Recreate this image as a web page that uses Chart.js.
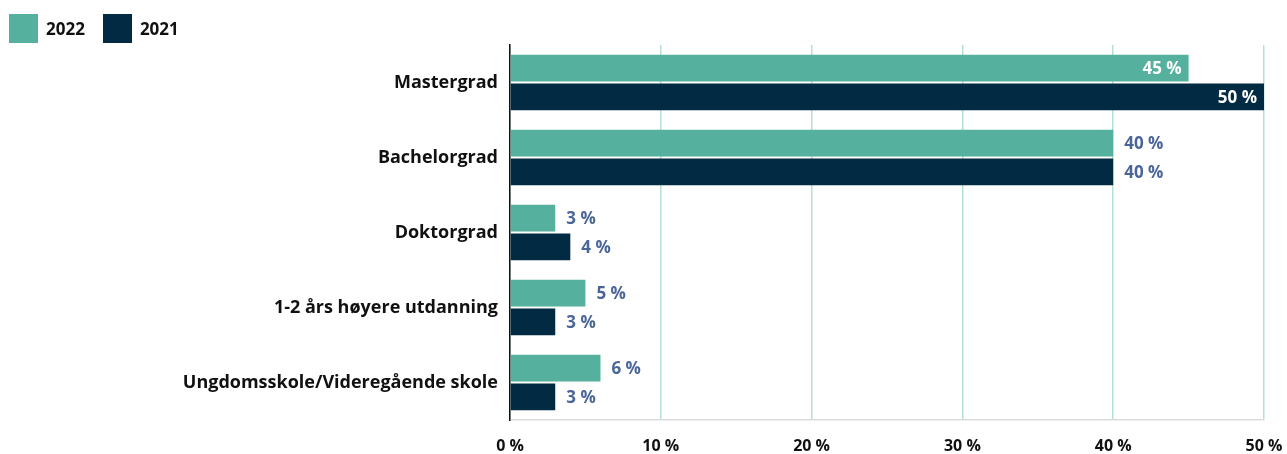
<!DOCTYPE html>
<html lang="no">
<head>
    <meta charset="UTF-8">
    <title>Utdanning 2022 / 2021</title>
    <script src="https://cdn.jsdelivr.net/npm/chart.js@4.4.1/dist/chart.umd.min.js"></script>
    <style>
        html, body { margin: 0; padding: 0; background: #fff; }
        body { width: 1287px; height: 454px; position: relative; overflow: hidden; font-family: "Open Sans", "Noto Sans", sans-serif; }
        .legend { position: absolute; left: 9px; top: 14px; display: flex; align-items: center; font-weight: 700; font-size: 17px; color: #111; z-index: 2; }
        .legend span.box { display: inline-block; width: 29px; height: 29px; margin-right: 8px; }
        .legend .item { display: flex; align-items: center; margin-right: 18px; }
        canvas { position: absolute; left: 0; top: 0; }
    </style>
</head>
<body>
    <!-- Legend -->
    <div class="legend" id="legend"></div>

    <canvas id="eduChart" width="1287" height="454"></canvas>

    <script>
        // Data
        const categories = ['Mastergrad', 'Bachelorgrad', 'Doktorgrad', '1-2 års høyere utdanning', 'Ungdomsskole/Videregående skole'];
        const seriesNames = ['2022', '2021'];
        const values2022 = [45, 40, 3, 5, 6];
        const values2021 = [50, 40, 4, 3, 3];
        const xTicks = [0, 10, 20, 30, 40, 50];

        const colors = ['#55b09d', '#032a43'];
        const labelColor = '#4a6597';
        const fontFamily = '"Open Sans", "Noto Sans", sans-serif';

        // HTML legend
        const legendEl = document.getElementById('legend');
        seriesNames.forEach((name, i) => {
            const item = document.createElement('div');
            item.className = 'item';
            item.innerHTML = `<span class="box" style="background:${colors[i]}"></span>${name}`;
            legendEl.appendChild(item);
        });

        // Draws "NN %" next to / inside each bar
        const valueLabels = {
            id: 'valueLabels',
            afterDatasetsDraw(chart) {
                const ctx = chart.ctx;
                ctx.save();
                ctx.font = '700 17px ' + fontFamily;
                ctx.textBaseline = 'middle';
                chart.data.datasets.forEach((ds, di) => {
                    chart.getDatasetMeta(di).data.forEach((bar, i) => {
                        const v = ds.data[i];
                        const txt = v + ' %';
                        if (v > 42) {
                            ctx.fillStyle = '#ffffff';
                            ctx.textAlign = 'right';
                            ctx.fillText(txt, bar.x - 7, bar.y + 1);
                        } else {
                            ctx.fillStyle = labelColor;
                            ctx.textAlign = 'left';
                            ctx.fillText(txt, bar.x + 11, bar.y + 1);
                        }
                    });
                });
                ctx.restore();
            }
        };

        const ctx = document.getElementById('eduChart').getContext('2d');
        new Chart(ctx, {
            type: 'bar',
            data: {
                labels: categories,
                datasets: [
                    { label: seriesNames[0], data: values2022, backgroundColor: colors[0] },
                    { label: seriesNames[1], data: values2021, backgroundColor: colors[1] }
                ]
            },
            options: {
                indexAxis: 'y',
                responsive: false,
                animation: false,
                devicePixelRatio: 1,
                layout: { padding: { top: 45, right: 0, bottom: 0, left: 0 } },
                datasets: {
                    bar: { categoryPercentage: 0.77, barPercentage: 0.93 }
                },
                scales: {
                    x: {
                        min: 0,
                        max: 50,
                        afterFit: s => { s.height = 34; s.paddingRight = 23; },
                        afterBuildTicks: s => { s.ticks = xTicks.map(v => ({ value: v })); },
                        grid: { color: '#b5e0d8', lineWidth: 1.5, drawTicks: false },
                        border: { color: '#dcdcdc', width: 1.5 },
                        ticks: {
                            padding: 17,
                            color: '#111',
                            font: { family: fontFamily, size: 16, weight: '700' },
                            callback: v => v + ' %'
                        }
                    },
                    y: {
                        afterFit: s => { s.width = 510; },
                        grid: { display: false, drawTicks: false },
                        border: { color: '#111', width: 1.5 },
                        ticks: {
                            padding: 12,
                            color: '#111',
                            font: { family: fontFamily, size: 18, weight: '700' }
                        }
                    }
                },
                plugins: {
                    legend: { display: false },
                    tooltip: { enabled: false }
                }
            },
            plugins: [valueLabels]
        });
    </script>
</body>
</html>
